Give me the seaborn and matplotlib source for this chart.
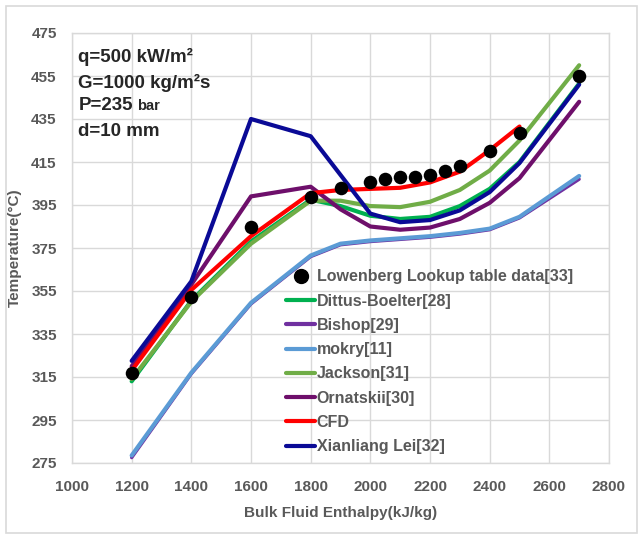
import matplotlib
matplotlib.use("Agg")
import matplotlib.pyplot as plt
import seaborn as sns
from matplotlib.lines import Line2D
from matplotlib.patches import Rectangle

# Data
enthalpy = [1200, 1400, 1600, 1800, 1900, 2000, 2100, 2200, 2300, 2400, 2500, 2700]
dittus = [313, 350.5, 378, 397.5, 394.5, 390, 388.5, 389.5, 394.5, 402.5, 415, 451.5]
bishop = [277.5, 316.5, 349, 371, 376.5, 378, 379, 380, 381.5, 383.5, 389, 407]
mokry = [278.5, 317, 349.5, 371.5, 377, 378.5, 379.5, 380.5, 382, 384, 389.5, 408.5]
jackson = [314, 350, 377, 397, 397, 394.5, 394, 396.5, 402, 411, 425, 460]
ornatskii = [320, 358, 399, 403.5, 393, 385, 383.5, 384.5, 388.5, 396, 407.5, 443]
lei = [322.5, 359.5, 435, 427, 409, 391, 387, 388, 392.5, 401, 414.5, 451]

cfd_enthalpy = [1200, 1400, 1600, 1800, 1900, 2000, 2100, 2200, 2300, 2400, 2500]
cfd = [318, 355.5, 380.5, 400.5, 402, 402.5, 403, 405.5, 410.5, 420.5, 431.5]

lookup_enthalpy = [1200, 1400, 1600, 1800, 1900, 2000, 2050, 2100, 2150, 2200,
                   2250, 2300, 2400, 2500, 2700]
lookup_temp = [317, 352, 385, 398.5, 403, 405.5, 407, 408, 408, 409,
               411, 413, 420, 428.5, 455]

series = [
    ("Dittus-Boelter[28]", enthalpy, dittus, "#00B050", 3.0),
    ("Bishop[29]", enthalpy, bishop, "#7030A0", 2.4),
    ("mokry[11]", enthalpy, mokry, "#5B9BD5", 3.0),
    ("Jackson[31]", enthalpy, jackson, "#70AD47", 3.0),
    ("Ornatskii[30]", enthalpy, ornatskii, "#6E0F6B", 3.0),
    ("CFD", cfd_enthalpy, cfd, "#FF0000", 3.0),
    ("Xianliang Lei[32]", enthalpy, lei, "#0A0A96", 3.0),
]

sns.set_style("whitegrid")
plt.rcParams["font.family"] = ["Liberation Sans", "DejaVu Sans"]

fig = plt.figure(figsize=(6.39, 5.35), dpi=100)
ax = fig.add_axes([72 / 639, 1 - 463 / 535, 537 / 639, 430 / 535])

# light frame around the whole chart
fig.patches.append(Rectangle((6 / 639, 2 / 535), 631 / 639, 527 / 535,
                             transform=fig.transFigure, fill=False,
                             edgecolor="#D9D9D9", lw=1.2))

handles = []
for name, xs, ys, col, lw in series:
    sns.lineplot(x=xs, y=ys, color=col, lw=lw, ax=ax, sort=False, zorder=2)
    handles.append(Line2D([], [], color=col, lw=3, label=name))

sns.scatterplot(x=lookup_enthalpy, y=lookup_temp, color="black", s=95,
                edgecolor="black", linewidth=0, ax=ax, zorder=5)
dot = Line2D([], [], marker="o", color="black", ls="none", markersize=10,
             label="Lowenberg Lookup table data[33]")

ax.set_xlim(1000, 2800)
ax.set_ylim(275, 475)
ax.set_xticks(range(1000, 2801, 200))
ax.set_yticks(range(275, 476, 20))
ax.grid(True, color="#D9D9D9", lw=1)
for s in ax.spines.values():
    s.set_color("#D9D9D9")
    s.set_linewidth(1)
ax.tick_params(length=0, labelsize=11, labelcolor="#595959")
ax.tick_params(axis="y", pad=11)
ax.tick_params(axis="x", pad=12)
for lab in ax.get_xticklabels() + ax.get_yticklabels():
    lab.set_fontweight("bold")

ax.set_xlabel("Bulk Fluid Enthalpy(kJ/kg)", fontsize=11, fontweight="bold",
              color="#595959", labelpad=9)
ax.set_ylabel("Temperature(°C)", fontsize=11, fontweight="bold",
              color="#595959", labelpad=7)

leg = ax.legend(handles=[dot] + handles, loc="upper left",
                bbox_to_anchor=(208 / 537, 1 - 230 / 430), frameon=False,
                fontsize=11.5, handlelength=1.8, handletextpad=0.1,
                labelspacing=0.58, borderaxespad=0)
for t in leg.get_texts():
    t.set_color("#595959")
    t.set_fontweight("bold")

ax.text(0.012, 0.965, "q=500 kW/m²", transform=ax.transAxes, fontsize=13.5,
        fontweight="bold", va="top")
ax.text(0.012, 0.905, "G=1000 kg/m²s", transform=ax.transAxes, fontsize=13.5,
        fontweight="bold", va="top")
ax.text(0.012, 0.82, "P=235", transform=ax.transAxes, fontsize=13.5,
        fontweight="bold", va="baseline")
ax.text(0.121, 0.82, "bar", transform=ax.transAxes, fontsize=10.5,
        fontweight="bold", va="baseline")
ax.text(0.012, 0.79, "d=10 mm", transform=ax.transAxes, fontsize=13.5,
        fontweight="bold", va="top")

fig.savefig("out.png", dpi=100)
